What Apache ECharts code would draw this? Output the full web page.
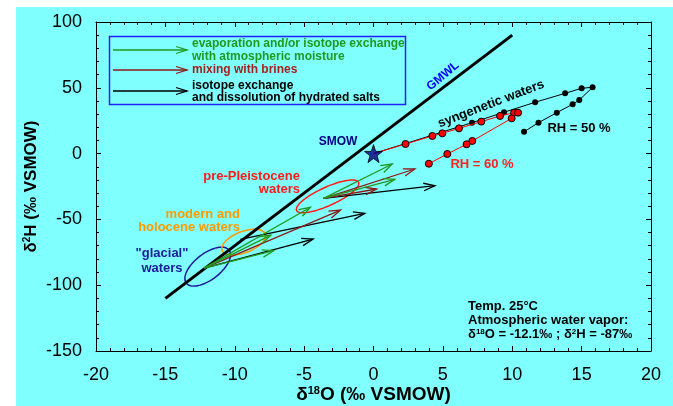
<!DOCTYPE html>
<html>
<head>
<meta charset="utf-8">
<script src="https://cdn.jsdelivr.net/npm/echarts@6/dist/echarts.min.js"></script>
<style>html,body{margin:0;padding:0;background:#fff}#c{width:673px;height:406px}</style>
</head>
<body>
<div id="c"></div>
<script>
// ---- data ----
const xTicks = [-20, -15, -10, -5, 0, 5, 10, 15, 20];
const yTicks = [-150, -100, -50, 0, 50, 100];
const gmwlX = [-15, 10];
const gmwlY = [-110, 90];
const smowX = [0];
const smowY = [0];
const rh60X = [0, 2.31, 4.24, 4.96, 6.16, 7.77, 9.12, 10.13, 10.42, 9.96, 7.12, 6.71, 5.32, 3.99];
const rh60Y = [0, 7.3, 13.4, 15.4, 19.2, 24.3, 28.6, 31.1, 31.1, 26.8, 9.6, 7.1, -0.3, -7.7];
const rh50X = [0, 7.1, 9.41, 11.65, 13.81, 15.0, 15.79, 14.83, 14.35, 13.21, 11.89, 10.85];
const rh50Y = [0, 23.5, 31.4, 39.0, 45.8, 49.6, 50.4, 40.7, 37.5, 31.1, 23.5, 16.6];
// arrows: start and end (δ18O, δ2H), kind
const arrowX0 = [-12.2, -12.2, -12.2, -3.6, -3.6, -12.2, -3.6, -3.6, -12.2, -9.6, -3.6];
const arrowY0 = [-87, -87, -87, -34, -34, -87, -34, -34, -87, -65.1, -34];
const arrowX1 = [-7.2, -7.4, -4.55, 1.35, 1.54, -2.38, 2.98, 0.22, -4.35, -0.63, 4.43];
const arrowY1 = [-73.8, -61.9, -40.8, -7.9, -19.5, -42.9, -11.7, -26.9, -64.9, -45.4, -24.4];
const arrowKind = ['evap', 'evap', 'evap', 'evap', 'evap', 'brine', 'brine', 'brine', 'salt', 'salt', 'salt'];
// ellipses: centre and two half-axis vectors (data units)
const ellCX = [-11.95, -9.36, -3.31];
const ellCY = [-85.9, -67.3, -32.5];
const ellUX = [1.54, 1.55, 2.235];
const ellUY = [12.6, 6.26, 10.68];
const ellVX = [0.58, 0.274, 0.274];
const ellVY = [-7.78, -7.52, -6.37];
const ellKind = ['glacial', 'modern', 'pre'];

// ---- styles ----
const kindColor = { evap: '#1f9a1f', brine: '#8b1a1a', salt: '#000000' };
const ellColor = { glacial: '#1a1a9a', modern: '#ff9900', pre: '#ff1a1a' };
const FONT = 'Liberation Sans, Arial, sans-serif';

function zip(a, b) { return a.map((v, i) => [v, b[i]]); }

function arrowSeries(kind) {
  const data = [];
  arrowKind.forEach((k, i) => { if (k === kind) data.push([arrowX0[i], arrowY0[i], arrowX1[i], arrowY1[i]]); });
  return {
    type: 'custom', z: 3, silent: true,
    encode: { x: [0, 2], y: [1, 3] },
    data: data,
    renderItem: function (params, api) {
      const p0 = api.coord([api.value(0), api.value(1)]);
      const p1 = api.coord([api.value(2), api.value(3)]);
      const a = Math.atan2(p1[1] - p0[1], p1[0] - p0[0]);
      const L = 12, w = 0.32;
      const h1 = [p1[0] - L * Math.cos(a - w), p1[1] - L * Math.sin(a - w)];
      const h2 = [p1[0] - L * Math.cos(a + w), p1[1] - L * Math.sin(a + w)];
      const c = kindColor[kind];
      return {
        type: 'group', children: [
          { type: 'line', shape: { x1: p0[0], y1: p0[1], x2: p1[0], y2: p1[1] }, style: { stroke: c, lineWidth: 1.3 } },
          { type: 'polyline', shape: { points: [h1, p1, h2] }, style: { stroke: c, fill: null, lineWidth: 1.3 } }
        ]
      };
    }
  };
}

const ellSeries = {
  type: 'custom', z: 2, silent: true,
  encode: { x: 0, y: 1 },
  data: ellCX.map((v, i) => [v, ellCY[i], ellUX[i], ellUY[i], ellVX[i], ellVY[i]]),
  renderItem: function (params, api) {
    const cx = api.value(0), cy = api.value(1), ux = api.value(2), uy = api.value(3), vx = api.value(4), vy = api.value(5);
    const pts = [];
    for (let k = 0; k <= 72; k++) {
      const t = k / 72 * Math.PI * 2;
      pts.push(api.coord([cx + ux * Math.cos(t) + vx * Math.sin(t), cy + uy * Math.cos(t) + vy * Math.sin(t)]));
    }
    return { type: 'polyline', shape: { points: pts }, style: { stroke: ellColor[ellKind[params.dataIndex]], fill: null, lineWidth: 1.5 } };
  }
};

const axisCommon = {
  type: 'value',
  axisLine: { show: true, onZero: false, lineStyle: { color: '#000', width: 1 } },
  axisTick: { show: true, inside: true, length: 5, lineStyle: { color: '#000' } },
  minorTick: { show: true, splitNumber: 5, length: 3, lineStyle: { color: '#000' } },
  splitLine: { show: false },
  minorSplitLine: { show: false }
};

const chart = echarts.init(document.getElementById('c'), null, { renderer: 'canvas' });
chart.setOption({
  backgroundColor: '#ffffff',
  animation: false,
  grid: { left: 96, right: 22, top: 22, bottom: 55, containLabel: false, outerBoundsMode: 'none' },
  xAxis: [
    Object.assign({}, axisCommon, {
      position: 'bottom', min: xTicks[0], max: xTicks[xTicks.length - 1], interval: 5,
      axisLabel: { fontSize: 18, color: '#000', margin: 15, fontFamily: FONT },
      name: '{a|δ}{s|18}{a|O (‰ VSMOW)}', nameLocation: 'middle', nameGap: 34, nameMoveOverlap: false,
      nameTextStyle: {
        rich: {
          a: { fontSize: 19, fontWeight: 'bold', color: '#000', fontFamily: FONT, lineHeight: 20 },
          s: { fontSize: 11, fontWeight: 'bold', color: '#000', fontFamily: FONT, verticalAlign: 'top', lineHeight: 20 }
        }
      }
    }),
    Object.assign({}, axisCommon, {
      position: 'top', min: xTicks[0], max: xTicks[xTicks.length - 1], interval: 5,
      axisLabel: { show: false }
    })
  ],
  yAxis: [
    Object.assign({}, axisCommon, {
      position: 'left', min: yTicks[0], max: yTicks[yTicks.length - 1], interval: 50,
      axisLabel: { fontSize: 18, color: '#000', margin: 14, fontFamily: FONT },
      name: '{a|δ}{s|2}{a|H (‰ VSMOW)}', nameLocation: 'middle', nameGap: 56, nameRotate: 90, nameMoveOverlap: false,
      nameTextStyle: {
        rich: {
          a: { fontSize: 17, fontWeight: 'bold', color: '#000', fontFamily: FONT, lineHeight: 18 },
          s: { fontSize: 10, fontWeight: 'bold', color: '#000', fontFamily: FONT, verticalAlign: 'top', lineHeight: 18 }
        }
      }
    }),
    Object.assign({}, axisCommon, {
      position: 'right', min: yTicks[0], max: yTicks[yTicks.length - 1], interval: 50,
      axisLabel: { show: false }
    })
  ],
  graphic: [
    { type: 'rect', z: -100, silent: true, shape: { x: 16, y: 7, width: 657, height: 399 }, style: { fill: '#80ffff' } },
    // legend box
    { type: 'rect', z: 10, shape: { x: 109.5, y: 36.5, width: 296, height: 68 }, style: { fill: null, stroke: '#2020ff', lineWidth: 1.5 } },
    { type: 'line', z: 10, shape: { x1: 113, y1: 50, x2: 187, y2: 50 }, style: { stroke: kindColor.evap, lineWidth: 1.3 } },
    { type: 'polyline', z: 10, shape: { points: [[176, 46.5], [187, 50], [176, 53.5]] }, style: { stroke: kindColor.evap, fill: null, lineWidth: 1.3 } },
    { type: 'line', z: 10, shape: { x1: 113, y1: 70, x2: 187, y2: 70 }, style: { stroke: kindColor.brine, lineWidth: 1.3 } },
    { type: 'polyline', z: 10, shape: { points: [[176, 66.5], [187, 70], [176, 73.5]] }, style: { stroke: kindColor.brine, fill: null, lineWidth: 1.3 } },
    { type: 'line', z: 10, shape: { x1: 113, y1: 91, x2: 187, y2: 91 }, style: { stroke: '#000', lineWidth: 1.3 } },
    { type: 'polyline', z: 10, shape: { points: [[176, 87.5], [187, 91], [176, 94.5]] }, style: { stroke: '#000', fill: null, lineWidth: 1.3 } },
    { type: 'text', z: 10, left: 192, top: 37, style: { text: 'evaporation and/or isotope exchange\nwith atmospheric moisture', fill: '#1f9a1f', font: 'bold 12px ' + FONT, lineHeight: 13 } },
    { type: 'text', z: 10, left: 192, top: 63.5, style: { text: 'mixing with brines', fill: '#a52020', font: 'bold 12px ' + FONT } },
    { type: 'text', z: 10, left: 192, top: 79.5, style: { text: 'isotope exchange\nand dissolution of hydrated salts', fill: '#000', font: 'bold 12px ' + FONT, lineHeight: 12 } },
    // annotations
    { type: 'text', z: 10, x: 443, y: 76, rotation: 40 * Math.PI / 180, style: { text: 'GMWL', fill: '#0000ff', font: 'bold 12px ' + FONT, align: 'center', verticalAlign: 'middle' } },
    { type: 'text', z: 10, x: 338, y: 142, style: { text: 'SMOW', fill: '#000080', font: 'bold 12px ' + FONT, align: 'center', verticalAlign: 'middle' } },
    { type: 'text', z: 10, x: 491, y: 104, rotation: 21 * Math.PI / 180, style: { text: 'syngenetic waters', fill: '#000', font: 'bold 13px ' + FONT, align: 'center', verticalAlign: 'middle' } },
    { type: 'text', z: 10, x: 579, y: 128, style: { text: 'RH = 50 %', fill: '#000', font: 'bold 13px ' + FONT, align: 'center', verticalAlign: 'middle' } },
    { type: 'text', z: 10, x: 482, y: 164, style: { text: 'RH = 60 %', fill: '#ff2020', font: 'bold 13px ' + FONT, align: 'center', verticalAlign: 'middle' } },
    { type: 'text', z: 10, x: 300, y: 183, style: { text: 'pre-Pleistocene\nwaters', fill: '#ff1a1a', font: 'bold 13px ' + FONT, align: 'right', verticalAlign: 'middle', lineHeight: 13 } },
    { type: 'text', z: 10, x: 240, y: 220.5, style: { text: 'modern and\nholocene waters', fill: '#ff9900', font: 'bold 13px ' + FONT, align: 'right', verticalAlign: 'middle', lineHeight: 13 } },
    { type: 'text', z: 10, x: 162, y: 261, style: { text: '"glacial"\nwaters', fill: '#1a1a9a', font: 'bold 13px ' + FONT, align: 'center', verticalAlign: 'middle', lineHeight: 15 } },
    { type: 'text', z: 10, left: 468, top: 300, style: {
        text: '{b|Temp. 25°C}\n{b|Atmospheric water vapor:}\n{b|δ}{s|18}{b|O = -12.1‰ ; δ}{s|2}{b|H = -87‰}',
        rich: {
          b: { font: 'bold 13px ' + FONT, fill: '#000', lineHeight: 14 },
          s: { font: 'bold 8px ' + FONT, fill: '#000', verticalAlign: 'top', lineHeight: 14 }
        }
    } }
  ],
  series: [
    { type: 'line', data: zip(gmwlX, gmwlY), symbol: 'none', lineStyle: { color: '#000', width: 3 }, z: 2, silent: true },
    ellSeries,
    arrowSeries('salt'),
    arrowSeries('brine'),
    arrowSeries('evap'),
    { type: 'line', data: zip(rh50X, rh50Y).map((p, i) => i === 0 ? { value: p, symbol: 'none' } : p),
      symbol: 'circle', symbolSize: 6, lineStyle: { color: '#000', width: 1 }, itemStyle: { color: '#000' }, z: 4, silent: true },
    { type: 'line', data: zip(rh60X, rh60Y).map((p, i) => i === 0 ? { value: p, symbol: 'none' } : p),
      symbol: 'circle', symbolSize: 7, lineStyle: { color: '#ff0000', width: 1 }, itemStyle: { color: '#ff0000', borderColor: '#000', borderWidth: 1 }, z: 5, silent: true },
    { type: 'scatter', data: zip(smowX, smowY),
      symbol: 'path://M50,0 L61.8,35.1 L98.9,35.5 L69.1,57.7 L80.1,93.1 L50,71.6 L19.9,93.1 L30.9,57.7 L1.1,35.5 L38.2,35.1 Z',
      symbolSize: 18, itemStyle: { color: '#000080', borderColor: '#000', borderWidth: 1 }, z: 6, silent: true }
  ]
});
</script>
</body>
</html>
